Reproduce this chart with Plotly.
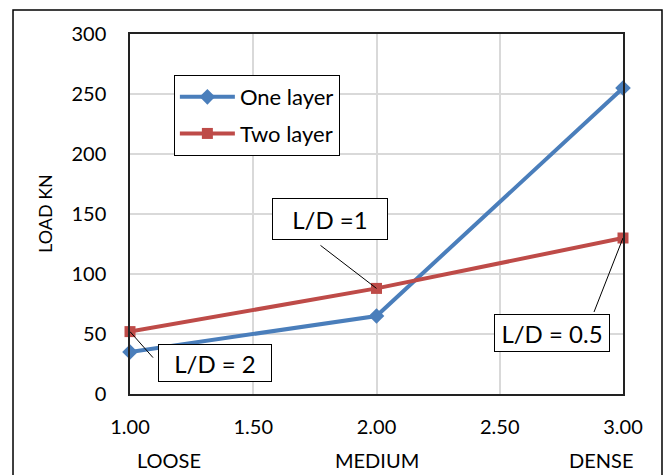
import plotly.graph_objects as go

# ---- data ----
density_x = [1.0, 2.0, 3.0]
one_layer = [35, 65, 255]
two_layer = [52, 88, 130]
density_labels = ["LOOSE", "MEDIUM", "DENSE"]
ld_labels = ["L/D = 2", "L/D =1", "L/D = 0.5"]
x_ticks = [1.0, 1.5, 2.0, 2.5, 3.0]
y_ticks = [0, 50, 100, 150, 200, 250, 300]

FONT = "Lato, Carlito, Calibri, sans-serif"
BLUE = "#4A7EBB"
RED = "#BE4B48"

fig = go.Figure()
fig.add_trace(go.Scatter(
    x=density_x, y=one_layer, name="One layer", mode="lines+markers",
    line=dict(color=BLUE, width=4),
    marker=dict(symbol="diamond", size=12, color=BLUE),
    legendgroup="a", cliponaxis=False))
fig.add_trace(go.Scatter(
    x=density_x, y=two_layer, name="Two layer", mode="lines+markers",
    line=dict(color=RED, width=4),
    marker=dict(symbol="square", size=11, color=RED),
    legendgroup="b", cliponaxis=False))

annotations = []
# density category labels under the x axis
cat_pos = [1.16, 2.0, 2.91]
for lab, px in zip(density_labels, cat_pos):
    annotations.append(dict(x=px, y=-0.183, xref="x", yref="paper", text=lab,
                            showarrow=False, font=dict(family=FONT, size=20, color="black"),
                            xanchor="center", yanchor="middle"))
# y axis title
annotations.append(dict(x=-0.1724, y=0.5, xref="paper", yref="paper", text="LOAD KN",
                        textangle=-90, showarrow=False,
                        font=dict(family=FONT, size=18, color="black"),
                        xanchor="center", yanchor="middle"))

# callout boxes (L/D labels) attached to the Two layer points
box_pos = [(1.345, 25.8, 112, 36), (1.811, 145.8, 114, 40), (2.712, 50.8, 114, 36)]
leader = [(23, -26), (-56, 43), (-29, -74)]
shapes = []
for i, (lab, (bx, by, bw, bh), (dx, dy)) in enumerate(zip(ld_labels, box_pos, leader)):
    annotations.append(dict(x=bx, y=by, xref="x", yref="y", text=lab, showarrow=False,
                            font=dict(family=FONT, size=24, color="black"),
                            bgcolor="white", bordercolor="black", borderwidth=1,
                            width=bw, height=bh, borderpad=0,
                            xanchor="center", yanchor="middle"))
    shapes.append(dict(type="line", xref="x", yref="y",
                       xsizemode="pixel", ysizemode="pixel",
                       xanchor=density_x[i], yanchor=two_layer[i],
                       x0=0, y0=0, x1=dx, y1=dy,
                       line=dict(color="black", width=1)))

# outer chart border
shapes.append(dict(type="rect", xref="paper", yref="paper",
                   x0=-0.2373, x1=1.0791, y0=-0.3, y1=1.0667,
                   line=dict(color="black", width=1.5), layer="below"))

fig.update_layout(
    width=668, height=475,
    margin=dict(l=130, r=45, t=34, b=81),
    paper_bgcolor="white", plot_bgcolor="white",
    font=dict(family=FONT, size=20, color="black"),
    showlegend=True,
    legend=dict(x=0.089, y=0.886, xanchor="left", yanchor="top",
                bordercolor="black", borderwidth=1, bgcolor="white",
                font=dict(family=FONT, size=22, color="black"),
                tracegroupgap=5, itemwidth=55, traceorder="grouped"),
    annotations=annotations,
    shapes=shapes,
)
fig.update_xaxes(range=[1, 3], tickvals=x_ticks, ticktext=[f"{v:.2f}" for v in x_ticks],
                 showgrid=True, gridcolor="#D9D9D9", gridwidth=1.5,
                 showline=True, linecolor="#222222", linewidth=1.5, mirror=True,
                 zeroline=False, ticks="", ticklabelstandoff=14,
                 tickfont=dict(family=FONT, size=20, color="black"))
fig.update_yaxes(range=[0, 300], tickvals=y_ticks,
                 showgrid=True, gridcolor="#D9D9D9", gridwidth=1.5,
                 showline=True, linecolor="#222222", linewidth=1.5, mirror=True,
                 zeroline=False, ticks="", ticklabelstandoff=18,
                 tickfont=dict(family=FONT, size=20, color="black"))

fig.write_html("out.html")
